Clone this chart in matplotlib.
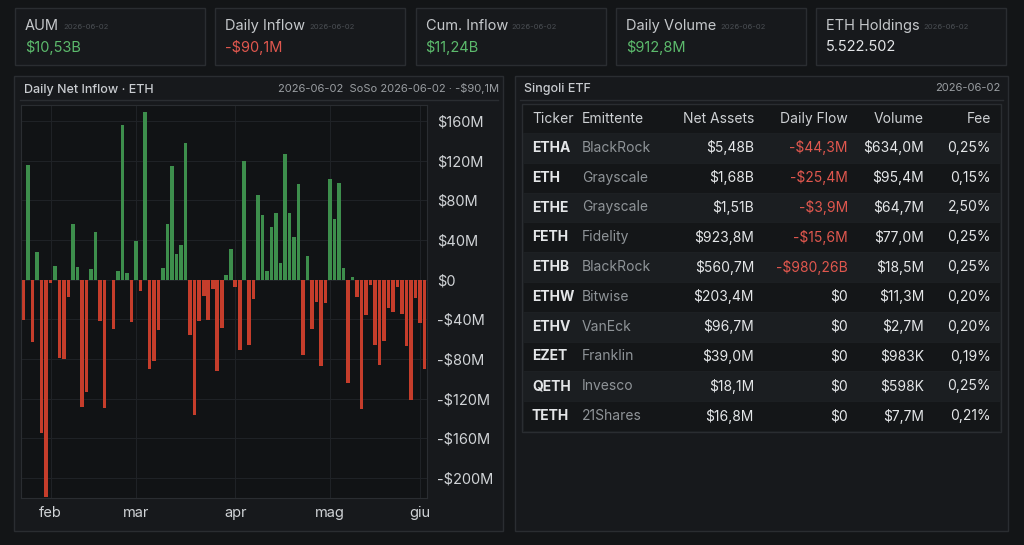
import numpy as np
import pandas as pd
import matplotlib
matplotlib.use('Agg')
import matplotlib.pyplot as plt
from matplotlib.patches import Rectangle

# --- data ---
card_titles = ['AUM', 'Daily Inflow', 'Cum. Inflow', 'Daily Volume', 'ETH Holdings']
card_values = ['$10,53B', '-$90,1M', '$11,24B', '$912,8M', '5.522.502']
card_kinds = ['pos', 'neg', 'pos', 'pos', 'plain']
card_date = '2026-06-02'

# daily net inflow, $M (trading days 2026-01-23 .. 2026-06-02)
flows = [-41, 116, -63, 28, -155, -219, -3, 14, -79, -80,
         -17, 56, 13, -128, -113, 11, 48, -42, -129, 0,
         -50, 9, 156, 7, -43, 39, -11, 169, -90, -82,
         -51, 12, 56, 115, 26, 35, 138, -56, -136, -42,
         -16, -41, -9, -92, -49, 5, 31, -7, -71, 120,
         -66, -19, 85, 65, 9, 53, 67, 17, 127, 67,
         43, 96, -76, 24, -50, -22, -87, -24, 101, 61,
         97, 12, -104, 3, -17, -130, -36, -5, -66, -86,
         -62, -29, -33, -7, -35, -67, -121, -18, -44, -90]
holidays = ['2026-02-16', '2026-04-03', '2026-05-25']
month_names = {2: 'feb', 3: 'mar', 4: 'apr', 5: 'mag', 6: 'giu'}
y_ticks = [160, 120, 80, 40, 0, -40, -80, -120, -160, -200]

tickers = ['ETHA', 'ETH', 'ETHE', 'FETH', 'ETHB', 'ETHW', 'ETHV', 'EZET', 'QETH', 'TETH']
issuers = ['BlackRock', 'Grayscale', 'Grayscale', 'Fidelity', 'BlackRock',
           'Bitwise', 'VanEck', 'Franklin', 'Invesco', '21Shares']
net_assets = ['$5,48B', '$1,68B', '$1,51B', '$923,8M', '$560,7M',
              '$203,4M', '$96,7M', '$39,0M', '$18,1M', '$16,8M']
daily_flow = ['-$44,3M', '-$25,4M', '-$3,9M', '-$15,6M', '-$980,26B',
              '$0', '$0', '$0', '$0', '$0']
volume = ['$634,0M', '$95,4M', '$64,7M', '$77,0M', '$18,5M',
          '$11,3M', '$2,7M', '$983K', '$598K', '$7,7M']
fee = ['0,25%', '0,15%', '2,50%', '0,25%', '0,25%',
       '0,20%', '0,20%', '0,19%', '0,25%', '0,21%']
columns = ['Ticker', 'Emittente', 'Net Assets', 'Daily Flow', 'Volume', 'Fee']

# --- style ---
W, H = 1024, 545
BG = '#131517'
CARD = '#17191c'
EDGE = '#2a2d31'
PLOT_BG = '#111315'
GREEN_TXT = '#5cba6c'
RED_TXT = '#e0574e'
GREEN_BAR = '#3d8e4c'
RED_BAR = '#c53d2b'
TXT = '#e4e6e8'
FAINT = '#4a4e53'

plt.rcParams['font.family'] = ['Inter', 'DejaVu Sans']

fig = plt.figure(figsize=(W / 100, H / 100), dpi=100, facecolor=BG)


def fx(x):
    return x / W


def fy(y):
    return 1 - y / H


def box(x0, y0, x1, y1, face, edge=EDGE, lw=1.0, z=-2):
    fig.patches.append(Rectangle((fx(x0), fy(y1)), fx(x1) - fx(x0), fy(y0) - fy(y1),
                                 transform=fig.transFigure, facecolor=face,
                                 edgecolor=edge, linewidth=lw, zorder=z))


def text(x, y, s, **kw):
    kw.setdefault('va', 'center')
    fig.text(fx(x), fy(y), s, **kw)


# top cards
for i in range(5):
    x0 = 15 + i * 200.3
    box(x0, 8, x0 + 190, 65, CARD)
    t = fig.text(fx(x0 + 10), fy(26), card_titles[i], color='#c5c8cb', fontsize=10.5, va='center')
    fig.canvas.draw()
    bb = t.get_window_extent()
    fig.text(bb.x1 / W + fx(4), fy(27), card_date, color=FAINT, fontsize=5.5, va='center')
    col = {'pos': GREEN_TXT, 'neg': RED_TXT, 'plain': TXT}[card_kinds[i]]
    text(x0 + 10, 47, card_values[i], color=col, fontsize=10.5)

# left panel
box(14, 76, 503, 531, CARD)
text(24, 90, 'Daily Net Inflow · ETH', color='#c9ccd0', fontsize=9, fontweight='medium')
text(499, 89, '2026-06-02  SoSo 2026-06-02 · -$90,1M', color='#9a9ea2', fontsize=8, ha='right')
fig.lines.append(plt.Line2D([fx(20), fx(498)], [fy(100), fy(100)], transform=fig.transFigure,
                            color=EDGE, linewidth=1, zorder=-1))

dates = pd.bdate_range('2026-01-23', '2026-06-02')
dates = dates[~dates.isin(pd.to_datetime(holidays))]
vals = np.array(flows, dtype=float)
idx = np.arange(len(vals))

ax = fig.add_axes([fx(21), fy(498), fx(427) - fx(21), fy(105) - fy(498)])
ax.set_zorder(3)
ax.set_facecolor(PLOT_BG)
colors = [GREEN_BAR if v >= 0 else RED_BAR for v in vals]
ax.bar(idx, vals, width=0.78, color=colors, zorder=2)
ax.set_xlim(-0.6, len(vals) - 0.4)
ax.set_ylim(-220, 176)

month_pos = []
month_lab = []
for m, name in month_names.items():
    hits = np.where(dates.month == m)[0]
    if len(hits):
        month_pos.append(hits[0])
        month_lab.append(name)
ax.set_xticks(month_pos)
ax.set_xticklabels(month_lab)
ax.set_yticks(y_ticks)
ax.set_yticklabels([('-$%dM' % -v if v < 0 else ('$0' if v == 0 else '$%dM' % v)) for v in y_ticks])
ax.yaxis.tick_right()
ax.tick_params(axis='both', length=0, colors='#d0d3d6', labelsize=10.5)
ax.tick_params(axis='y', pad=7)
ax.tick_params(axis='x', pad=6)
ax.grid(True, color='#1f2226', linewidth=0.8, zorder=0)
for s in ax.spines.values():
    s.set_color(EDGE)

# right panel with table
box(515, 76, 1008, 531, CARD)
text(524, 89, 'Singoli ETF', color='#c9ccd0', fontsize=9, fontweight='medium')
text(1000, 88, card_date, color='#9a9ea2', fontsize=8, ha='right')
fig.lines.append(plt.Line2D([fx(520), fx(1003)], [fy(100), fy(100)], transform=fig.transFigure,
                            color=EDGE, linewidth=1, zorder=-1))

box(522, 104, 1001, 432, '#141618', edge=EDGE, z=-1.5)
row_h = 29.8
top = 133
for r in range(len(tickers)):
    y0 = top + r * row_h
    face = '#1b1e21' if r % 2 == 0 else '#141618'
    box(523, y0, 1000, y0 + row_h, face, edge='#1e2124', lw=0.6, z=-1)

col_x = [532, 582, 754, 848, 924, 991]
col_ha = ['left', 'left', 'right', 'right', 'right', 'right']
for c, name in enumerate(columns):
    text(col_x[c], 119, name, color='#cdd0d3', fontsize=10, ha=col_ha[c])

for r in range(len(tickers)):
    y = top + r * row_h + row_h / 2
    text(col_x[0], y, tickers[r], color=TXT, fontsize=10, fontweight='bold')
    text(col_x[1], y, issuers[r], color='#8f9498', fontsize=10)
    text(col_x[2], y, net_assets[r], color=TXT, fontsize=10, ha='right')
    fc = RED_TXT if daily_flow[r].startswith('-') else TXT
    text(col_x[3], y, daily_flow[r], color=fc, fontsize=10, ha='right')
    text(col_x[4], y, volume[r], color=TXT, fontsize=10, ha='right')
    text(col_x[5], y, fee[r], color=TXT, fontsize=10, ha='right')

fig.savefig('out.png', dpi=100, facecolor=BG)
